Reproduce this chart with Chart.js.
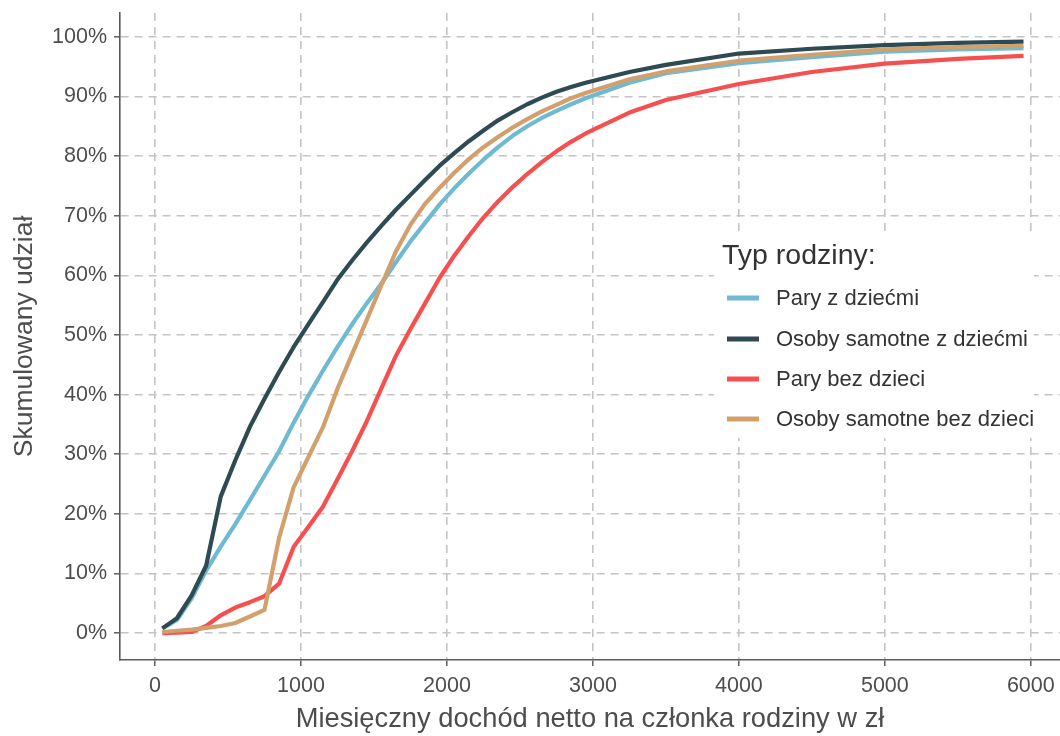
<!DOCTYPE html>
<html>
<head>
<meta charset="utf-8">
<script src="https://cdn.jsdelivr.net/npm/chart.js@4/dist/chart.umd.min.js"></script>
<style>
  html, body { margin: 0; padding: 0; background: #ffffff; }
  #wrap { position: relative; width: 1060px; height: 736px; }
</style>
</head>
<body>
<div id="wrap"><canvas id="c" width="1060" height="736"></canvas></div>
<script>
// ---- data ----
const income = [50,150,250,350,450,550,650,750,850,950,1050,1150,1250,1350,1450,1550,1650,1750,1850,1950,2050,2150,2250,2350,2450,2550,2650,2750,2850,2950,3250,3500,4000,4500,5000,5500,5950];

const seriesNames = ["Pary z dziećmi", "Osoby samotne z dziećmi", "Pary bez dzieci", "Osoby samotne bez dzieci"];

const paryZDziecmi = [0.8,2.2,5.8,10.5,14.5,18.3,22.3,26.4,30.5,35.3,39.8,44.0,48.0,51.8,55.3,58.6,62.2,65.7,68.8,71.9,74.6,77.1,79.4,81.5,83.4,85.0,86.4,87.6,88.7,89.7,92.3,93.9,95.6,96.6,97.5,97.9,98.1];
const samotneZDziecmi = [0.8,2.5,6.3,11.3,22.9,29.0,34.6,39.3,43.8,48.0,51.8,55.5,59.3,62.5,65.5,68.3,71.0,73.5,76.0,78.4,80.5,82.5,84.3,86.0,87.4,88.7,89.8,90.8,91.6,92.3,94.1,95.3,97.2,98.0,98.6,99.0,99.2];
const paryBezDzieci = [0,0.1,0.2,1.2,3.0,4.3,5.2,6.2,8.3,14.5,17.8,21.2,25.8,30.5,35.5,41.0,46.5,51.0,55.3,59.6,63.3,66.6,69.7,72.4,74.8,77.0,79.0,80.8,82.4,83.8,87.3,89.4,92.1,94.1,95.5,96.3,96.8];
const samotneBezDzieci = [0.2,0.4,0.6,0.9,1.2,1.7,2.8,3.9,16.0,24.5,29.5,34.5,41.0,46.8,52.5,58.3,64.0,68.5,72.0,74.7,77.2,79.5,81.5,83.2,84.8,86.2,87.5,88.6,89.7,90.6,92.9,94.2,96.0,97.0,97.9,98.3,98.5];

const xTicks = [0,1000,2000,3000,4000,5000,6000];
const yTicks = [0,10,20,30,40,50,60,70,80,90,100];

const colors = ["#6fbad2", "#2e4a53", "#f5504f", "#d1a06d"];
const allSeries = [paryZDziecmi, samotneZDziecmi, paryBezDzieci, samotneBezDzieci];

const FONT = "'Liberation Sans', Arial, sans-serif";
const TEXT = "#4d4d4d";

const datasets = allSeries.map((vals, i) => ({
  label: seriesNames[i],
  data: income.map((x, k) => ({ x: x, y: vals[k] })),
  borderColor: colors[i],
  backgroundColor: colors[i],
  borderWidth: 4.2,
  pointRadius: 0,
  tension: 0,
  fill: false,
  order: 3 - i,
  borderJoinStyle: 'round',
  borderCapStyle: 'butt'
}));

const legendPlugin = {
  id: 'insideLegend',
  beforeDatasetsDraw(chart) {
    const ctx = chart.ctx;
    ctx.save();
    ctx.fillStyle = '#ffffff';
    ctx.fillRect(714, 233, 320, 205);
    ctx.restore();
  },
  afterDraw(chart) {
    const ctx = chart.ctx;
    ctx.save();
    ctx.fillStyle = '#333333';
    ctx.textBaseline = 'middle';
    ctx.textAlign = 'left';
    ctx.font = "28.5px " + FONT;
    ctx.fillText("Typ rodziny:", 722, 256);
    ctx.font = "22px " + FONT;
    const ys = [298, 339, 379, 419];
    chart.data.datasets.forEach((ds, i) => {
      ctx.strokeStyle = ds.borderColor;
      ctx.lineWidth = 5;
      ctx.beginPath();
      ctx.moveTo(727, ys[i]);
      ctx.lineTo(759, ys[i]);
      ctx.stroke();
      ctx.fillStyle = '#333333';
      ctx.fillText(ds.label, 776, ys[i] + 1);
    });
    ctx.restore();
  }
};

new Chart(document.getElementById('c'), {
  type: 'line',
  data: { datasets: datasets },
  plugins: [legendPlugin],
  options: {
    responsive: false,
    animation: false,
    devicePixelRatio: 1,
    layout: { padding: { top: 13, right: 0, left: 0, bottom: 0 } },
    plugins: { legend: { display: false }, tooltip: { enabled: false } },
    scales: {
      x: {
        type: 'linear',
        min: -240,
        max: 6200,
        afterBuildTicks: (s) => { s.ticks = xTicks.map(v => ({ value: v })); },
        afterFit: (s) => { s.height = 76; s.paddingLeft = 0; s.paddingRight = 0; },
        ticks: { color: TEXT, font: { family: FONT, size: 21.5 }, padding: 7, maxRotation: 0, callback: (v) => String(v) },
        grid: { color: '#c4c4c4', lineWidth: 1.6, tickLength: 6, tickColor: '#555555', tickWidth: 1.4 },
        border: { display: true, color: '#5a5a5a', width: 1.6, dash: [8, 6] },
        title: { display: true, text: 'Miesięczny dochód netto na członka rodziny w zł', color: TEXT, font: { family: FONT, size: 27.3 }, padding: { top: 0, bottom: 0 } }
      },
      y: {
        type: 'linear',
        min: -4.5,
        max: 104,
        afterBuildTicks: (s) => { s.ticks = yTicks.map(v => ({ value: v })); },
        afterFit: (s) => { s.width = 120; s.paddingTop = 0; s.paddingBottom = 0; },
        ticks: { color: TEXT, font: { family: FONT, size: 21.5 }, padding: 7, callback: (v) => v + '%' },
        grid: { color: '#c4c4c4', lineWidth: 1.6, tickLength: 6, tickColor: '#555555', tickWidth: 1.4 },
        border: { display: true, color: '#5a5a5a', width: 1.6, dash: [8, 6] },
        title: { display: true, text: 'Skumulowany udział', color: TEXT, font: { family: FONT, size: 26.5 }, padding: { top: 9, bottom: 0 } }
      }
    }
  }
});
</script>
</body>
</html>
